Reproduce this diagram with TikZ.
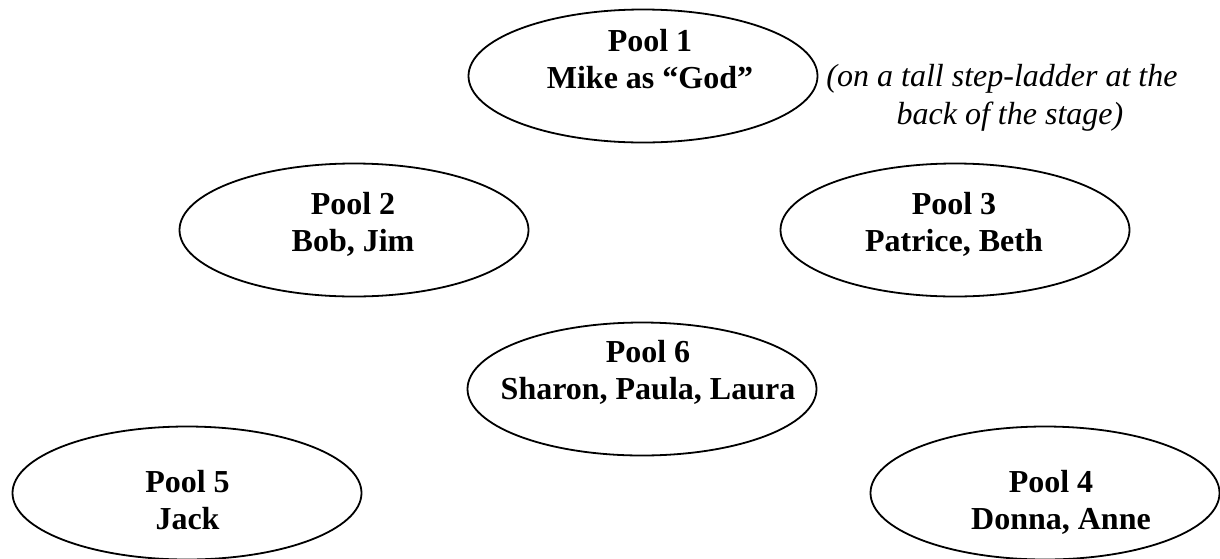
\documentclass[tikz,border=0pt]{standalone}
\usepackage{fontspec}
\setmainfont{Liberation Serif}
\usetikzlibrary{shapes.geometric}
\tikzstyle{every node}=[font=\fontsize{16}{18.5}\selectfont\bfseries, align=center]
\tikzstyle{pool}=[draw, ellipse, line width=0.9pt, minimum width=174.5pt, minimum height=66.5pt, inner sep=0pt]

\begin{document}
\begin{tikzpicture}[x=0.5pt, y=-0.5pt]
                \useasboundingbox (0,0) rectangle (1220,558);

                \coordinate (c1) at (643, 76);
                \coordinate (c2) at (354, 230);
                \coordinate (c3) at (955, 230);
                \coordinate (c6) at (642, 389);
                \coordinate (c5) at (187, 493);
                \coordinate (c4) at (1045, 493);

                \node[pool] (p1) at (c1) {};
                \node[pool] (p2) at (c2) {};
                \node[pool] (p3) at (c3) {};
                \node[pool] (p6) at (c6) {};
                \node[pool] (p5) at (c5) {};
                \node[pool] (p4) at (c4) {};

                \node (t1) at (650, 59.5) {Pool 1\\Mike as ``God''};
                \node (t2) at (353, 224) {Pool 2\\Bob, Jim};
                \node (t3) at (954, 224) {Pool 3\\Patrice, Beth};
                \node (t6) at (648, 372) {Pool 6\\Sharon, Paula, Laura};
                \node (t5) at (187.5, 500) {Pool 5\\Jack};
                \node (t4) at (1051, 502) {Pool 4\\\hspace*{10pt}Donna, Anne};

                \node[font=\fontsize{16}{19}\selectfont\itshape] (note) at (1002, 98) {(on a tall step-ladder at the\\\hspace*{8pt}back of the stage)};
\end{tikzpicture}
\end{document}
